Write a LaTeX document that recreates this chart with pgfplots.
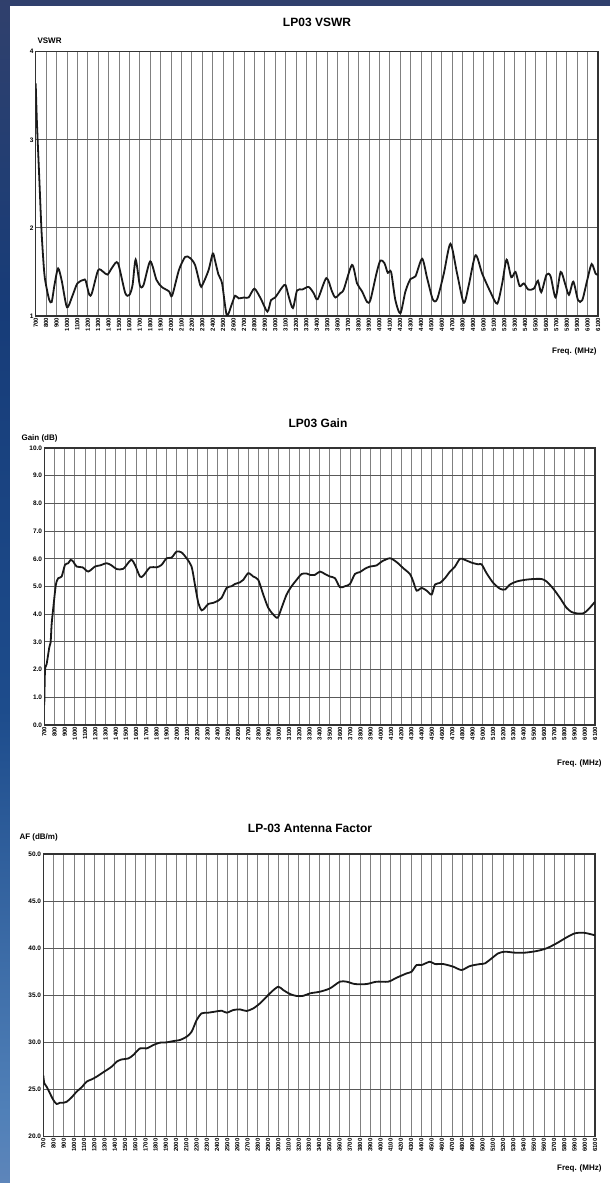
\documentclass[border=0pt]{standalone}
\usepackage{pgfplots}
\pgfplotsset{compat=1.18}
\usepackage{fontspec}
\setmainfont{Liberation Sans}

\definecolor{bg0}{HTML}{A4AACB}
\definecolor{bg1}{HTML}{8A96C0}
\definecolor{bg2}{HTML}{5080B8}
\definecolor{bg3}{HTML}{1D4C8C}
\definecolor{bg4}{HTML}{173C78}
\definecolor{bg5}{HTML}{3A4268}
\definecolor{bg6}{HTML}{464C70}
\pgfdeclareverticalshading{bgshade}{100bp}{color(0bp)=(bg0); color(15bp)=(bg1); color(28bp)=(bg2); color(45bp)=(bg3); color(62bp)=(bg4); color(80bp)=(bg5); color(100bp)=(bg6)}

\pgfplotsset{
  lp/.style={
    scale only axis, anchor=south west,
    xmin=700, xmax=6100,
    xtick={700,800,...,6100},
    axis line style={draw=black!80, line width=1.1pt},
    tick style={draw=none},
    xmajorgrids, ymajorgrids,
    major x grid style={draw=black!50, line width=0.8pt},
    major y grid style={draw=black!65, line width=0.9pt},
    xticklabel style={rotate=90, anchor=east, font=\fontsize{6}{6}\selectfont\bfseries, inner sep=1.5pt},
    yticklabel style={font=\fontsize{6.5}{7}\selectfont\bfseries, inner sep=2pt},
    /pgf/number format/1000 sep={},
    /pgf/number format/assume math mode=true,
  },
  curve/.style={black!90, line width=1.8pt, smooth, tension=0.45, mark=none},
}
\tikzset{
  ttl/.style={font=\fontsize{12}{14}\selectfont\bfseries},
  lbl/.style={font=\fontsize{8}{9}\selectfont\bfseries},
}

\pgfplotstableread{
f v
700 3.64
712 3.19
735 2.55
757 1.94
783 1.48
806 1.31
831 1.18
854 1.16
880 1.35
915 1.54
950 1.40
1000 1.10
1050 1.22
1100 1.37
1160 1.41
1180 1.40
1215 1.24
1240 1.26
1300 1.52
1350 1.50
1390 1.47
1440 1.56
1490 1.60
1560 1.26
1600 1.24
1630 1.35
1660 1.64
1700 1.35
1735 1.35
1800 1.62
1860 1.41
1910 1.33
1980 1.28
2010 1.23
2075 1.52
2135 1.67
2180 1.66
2230 1.58
2280 1.35
2300 1.35
2360 1.52
2400 1.71
2420 1.64
2455 1.47
2490 1.37
2535 1.01
2585 1.14
2615 1.23
2650 1.20
2700 1.21
2745 1.21
2800 1.31
2860 1.20
2925 1.05
2960 1.18
3000 1.21
3070 1.33
3100 1.35
3130 1.22
3170 1.09
3210 1.29
3260 1.30
3321 1.33
3369 1.26
3408 1.19
3491 1.43
3545 1.28
3578 1.21
3626 1.26
3658 1.30
3738 1.58
3786 1.37
3834 1.28
3882 1.16
3914 1.18
3972 1.48
4010 1.63
4049 1.60
4081 1.49
4113 1.50
4154 1.18
4202 1.03
4251 1.28
4299 1.42
4347 1.45
4411 1.65
4459 1.43
4513 1.19
4555 1.19
4619 1.48
4683 1.82
4747 1.48
4811 1.15
4859 1.35
4924 1.69
4988 1.48
5068 1.27
5132 1.14
5180 1.37
5222 1.64
5267 1.44
5308 1.50
5347 1.34
5388 1.37
5430 1.30
5484 1.31
5523 1.40
5555 1.27
5606 1.47
5645 1.45
5693 1.21
5741 1.50
5783 1.37
5821 1.24
5863 1.39
5908 1.18
5949 1.18
5997 1.41
6039 1.59
6077 1.48
6100 1.47
}\vswr

\pgfplotstableread{
f g
700 0.72
707 1.97
723 2.20
749 2.80
762 2.98
772 3.64
788 4.23
814 5.07
837 5.30
870 5.36
903 5.78
935 5.84
958 5.96
984 5.90
1017 5.72
1076 5.69
1131 5.54
1197 5.72
1246 5.76
1311 5.84
1360 5.76
1409 5.63
1475 5.64
1550 5.96
1589 5.78
1638 5.36
1671 5.39
1736 5.69
1801 5.69
1850 5.78
1899 6.02
1948 6.04
1997 6.26
2046 6.23
2095 6.02
2144 5.72
2177 5.07
2210 4.41
2243 4.14
2275 4.23
2308 4.37
2357 4.41
2406 4.49
2439 4.59
2488 4.95
2537 5.01
2569 5.09
2618 5.15
2651 5.24
2700 5.48
2749 5.36
2798 5.24
2847 4.71
2896 4.23
2945 3.99
2988 3.87
3027 4.23
3076 4.71
3125 5.01
3174 5.24
3223 5.45
3272 5.47
3305 5.42
3354 5.42
3403 5.54
3452 5.45
3501 5.36
3550 5.30
3599 4.97
3648 5.01
3697 5.09
3746 5.45
3795 5.52
3844 5.64
3893 5.72
3959 5.76
4008 5.90
4089 6.02
4155 5.88
4220 5.66
4285 5.45
4318 5.18
4351 4.85
4400 4.95
4449 4.85
4498 4.71
4531 5.07
4580 5.13
4629 5.30
4678 5.54
4727 5.72
4776 6.00
4825 5.96
4890 5.86
4955 5.80
4988 5.80
5037 5.48
5102 5.13
5168 4.92
5217 4.89
5266 5.07
5331 5.18
5413 5.24
5495 5.27
5576 5.27
5625 5.18
5691 4.92
5756 4.59
5821 4.23
5870 4.08
5920 4.03
5985 4.03
6034 4.17
6100 4.45
}\gain

\pgfplotstableread{
f a
700 26.50
710 25.66
733 25.30
765 24.60
798 23.90
830 23.47
863 23.60
896 23.60
928 23.70
977 24.17
1026 24.78
1075 25.24
1124 25.84
1173 26.08
1222 26.37
1271 26.72
1320 27.07
1369 27.43
1418 27.96
1467 28.20
1532 28.30
1581 28.67
1646 29.37
1712 29.37
1777 29.73
1842 29.98
1907 30.01
1973 30.15
2038 30.26
2103 30.61
2152 31.14
2201 32.38
2250 33.09
2315 33.16
2380 33.27
2446 33.37
2495 33.16
2560 33.44
2625 33.51
2690 33.34
2756 33.62
2821 34.15
2886 34.86
2935 35.39
3000 35.92
3049 35.56
3115 35.14
3180 34.93
3245 34.95
3310 35.21
3408 35.39
3506 35.74
3603 36.45
3669 36.45
3750 36.20
3864 36.20
3962 36.45
4076 36.45
4158 36.87
4256 37.33
4305 37.51
4354 38.22
4403 38.22
4484 38.57
4533 38.32
4615 38.32
4713 38.04
4794 37.69
4876 38.11
4974 38.32
5022 38.39
5088 38.92
5153 39.46
5218 39.63
5316 39.53
5414 39.53
5528 39.70
5626 39.99
5724 40.52
5822 41.15
5903 41.58
5985 41.65
6050 41.51
6100 41.37
}\af

\begin{document}
\begin{tikzpicture}[x=1pt,y=1pt]
\useasboundingbox (0,0) rectangle (610,1183);
\shade[shading=bgshade] (0,0) rectangle (610,1183);
\fill[white] (10,0) rectangle (610,1177);

% VSWR
\begin{axis}[lp, at={(35.7pt,867pt)}, width=562.3pt, height=264.3pt,
  ymin=1, ymax=4, ytick={1,2,3,4}]
\addplot[curve] table[x=f,y=v]{\vswr};
\end{axis}
\node[ttl] at (317,1161) {LP03 VSWR};
\node[lbl, anchor=west] at (34,1142) {VSWR};
\node[lbl, anchor=east] at (600,832) {Freq. (MHz)};

% Gain
\begin{axis}[lp, at={(44.3pt,458pt)}, width=550.7pt, height=277pt,
  ymin=0, ymax=10, ytick={0,1,...,10},
  yticklabel style={/pgf/number format/.cd, fixed, fixed zerofill, precision=1}]
\addplot[curve] table[x=f,y=g]{\gain};
\end{axis}
\node[ttl] at (318,760) {LP03 Gain};
\node[lbl, anchor=west] at (18,745) {Gain (dB)};
\node[lbl, anchor=east] at (605,420) {Freq. (MHz)};

% Antenna factor
\begin{axis}[lp, at={(43.3pt,46.3pt)}, width=551.7pt, height=282.7pt,
  ymin=20, ymax=50, ytick={20,25,...,50},
  yticklabel style={/pgf/number format/.cd, fixed, fixed zerofill, precision=1}]
\addplot[curve] table[x=f,y=a]{\af};
\end{axis}
\node[ttl] at (310,355) {LP-03 Antenna Factor};
\node[lbl, anchor=west] at (16,346) {AF (dB/m)};
\node[lbl, anchor=east] at (605,15) {Freq. (MHz)};
\end{tikzpicture}
\end{document}
